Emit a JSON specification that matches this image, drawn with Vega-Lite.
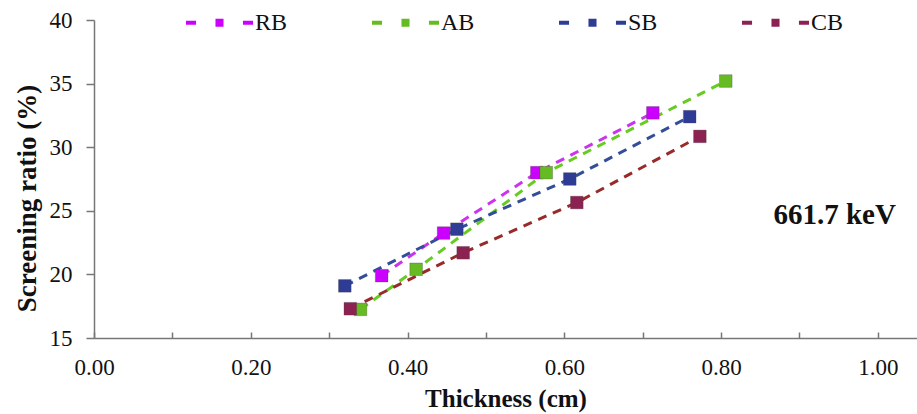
{
  "$schema": "https://vega.github.io/schema/vega-lite/v6.json",
  "width": 823,
  "height": 318,
  "autosize": "none",
  "padding": {"left": 94, "top": 20, "right": 0, "bottom": 76},
  "background": "white",
  "config": {"view": {"stroke": null}, "font": "Liberation Serif"},
  "data": {
    "values": [
      {"s": "RB", "t": 0.367, "r": 19.9},
      {"s": "RB", "t": 0.446, "r": 23.25},
      {"s": "RB", "t": 0.565, "r": 28.0},
      {"s": "RB", "t": 0.713, "r": 32.7},
      {"s": "AB", "t": 0.340, "r": 17.25},
      {"s": "AB", "t": 0.411, "r": 20.4},
      {"s": "AB", "t": 0.577, "r": 28.0},
      {"s": "AB", "t": 0.806, "r": 35.2},
      {"s": "SB", "t": 0.320, "r": 19.1},
      {"s": "SB", "t": 0.463, "r": 23.55},
      {"s": "SB", "t": 0.607, "r": 27.5},
      {"s": "SB", "t": 0.760, "r": 32.4},
      {"s": "CB", "t": 0.327, "r": 17.3},
      {"s": "CB", "t": 0.471, "r": 21.7},
      {"s": "CB", "t": 0.616, "r": 25.65},
      {"s": "CB", "t": 0.773, "r": 30.85}
    ]
  },
  "encoding": {
    "x": {
      "field": "t",
      "type": "quantitative",
      "scale": {"domain": [0, 1.05], "nice": false, "zero": false},
      "axis": {
        "title": "Thickness (cm)",
        "values": [0, 0.1, 0.2, 0.3, 0.4, 0.5, 0.6, 0.7, 0.8, 0.9, 1.0],
        "labelExpr": "round(datum.value*10)%2==0 ? format(datum.value,'.2f') : ''",
        "grid": false,
        "domainColor": "#777777",
        "domainWidth": 1.5,
        "tickColor": "#777777",
        "tickWidth": 1.5,
        "tickSize": -6,
        "labelPadding": 24,
        "labelFont": "Liberation Serif",
        "labelFontSize": 23,
        "labelColor": "#111111",
        "labelFlush": false,
        "titleFont": "Liberation Serif",
        "titleFontSize": 25,
        "titleFontWeight": "bold",
        "titleColor": "#111111",
        "titlePadding": 7
      }
    },
    "y": {
      "field": "r",
      "type": "quantitative",
      "scale": {"domain": [15, 40], "nice": false, "zero": false},
      "axis": {
        "title": "Screening ratio (%)",
        "values": [15, 20, 25, 30, 35, 40],
        "grid": false,
        "domainColor": "#777777",
        "domainWidth": 1.5,
        "tickColor": "#777777",
        "tickWidth": 1.5,
        "tickSize": 8,
        "labelPadding": 14,
        "labelFont": "Liberation Serif",
        "labelFontSize": 23,
        "labelColor": "#111111",
        "labelFlush": false,
        "titleFont": "Liberation Serif",
        "titleFontSize": 27,
        "titleFontWeight": "bold",
        "titleColor": "#111111",
        "titlePadding": 8,
        "titleY": 178
      }
    }
  },
  "layer": [
    {
      "mark": {"type": "line", "strokeWidth": 3, "strokeDash": [9, 7]},
      "encoding": {
        "color": {
          "field": "s",
          "type": "nominal",
          "scale": {"domain": ["AB", "CB", "RB", "SB"], "range": ["#66cc22", "#992a2a", "#cc33ee", "#334d99"]},
          "legend": null
        }
      }
    },
    {
      "mark": {"type": "point", "shape": "square", "filled": true, "size": 160, "opacity": 1, "stroke": "#444444", "strokeWidth": 0.6, "strokeOpacity": 0.5},
      "encoding": {
        "fill": {
          "field": "s",
          "type": "nominal",
          "scale": {"domain": ["RB", "AB", "SB", "CB"], "range": ["#cc00ff", "#66bb22", "#2e3c96", "#8b2252"]},
          "legend": {
            "title": null,
            "orient": "none",
            "legendX": 92,
            "legendY": -31,
            "direction": "horizontal",
            "columns": 4,
            "columnPadding": 84,
            "padding": 0,
            "symbolType": "M-1,-0.06H-0.7V0.06H-1Z M-0.12,-0.12H0.12V0.12H-0.12Z M0.7,-0.06H1V0.06H0.7Z",
            "symbolSize": 4489,
            "symbolStrokeWidth": 0,
            "symbolOpacity": 1,
            "labelFont": "Liberation Serif",
            "labelFontSize": 24,
            "labelColor": "#111111",
            "labelOffset": 2
          }
        }
      }
    },
    {
      "data": {"values": [{"t": 0.945, "r": 24.7, "label": "661.7 keV"}]},
      "mark": {"type": "text", "font": "Liberation Serif", "fontSize": 29, "fontWeight": "bold", "color": "#111111", "align": "center", "baseline": "middle"},
      "encoding": {"text": {"field": "label"}}
    }
  ]
}
